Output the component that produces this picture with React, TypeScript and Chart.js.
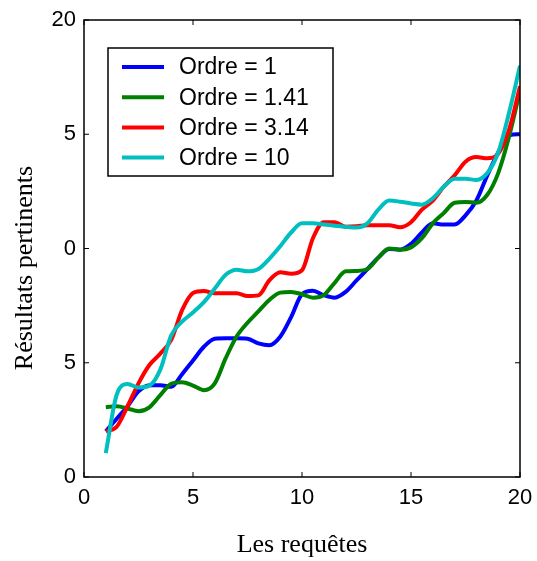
import React, { useEffect, useRef } from "react";
import { Chart, registerables } from "chart.js";

Chart.register(...registerables);

const requetes = [1, 1.5, 2, 2.5, 3, 3.5, 4, 4.5, 5, 5.5, 6, 6.5, 7, 7.5, 8, 8.5, 9, 9.5, 10, 10.5, 11, 11.5, 12, 12.5, 13, 13.5, 14, 14.5, 15, 15.5, 16, 16.5, 17, 17.5, 18, 18.5, 19, 19.5, 20];

const ordre1 = [2.0, 2.55, 3.1, 3.75, 4.02, 4.02, 3.95, 4.5, 5.1, 5.7, 6.05, 6.07, 6.07, 6.05, 5.85, 5.77, 6.14, 7.0, 8.0, 8.15, 7.96, 7.85, 8.1, 8.6, 9.1, 9.6, 9.98, 9.95, 10.2, 10.7, 11.1, 11.05, 11.05, 11.45, 12.1, 13.2, 14.2, 14.95, 15.0];

const ordre141 = [3.05, 3.1, 3.0, 2.88, 3.05, 3.58, 4.08, 4.15, 4.0, 3.8, 4.1, 5.2, 6.15, 6.75, 7.25, 7.75, 8.07, 8.1, 8.0, 7.85, 7.96, 8.5, 9.0, 9.02, 9.1, 9.6, 10.0, 9.95, 10.05, 10.45, 11.1, 11.55, 12.0, 12.04, 12.0, 12.35, 13.3, 14.9, 16.9];

const ordre314 = [2.0, 2.2, 3.1, 4.1, 4.9, 5.4, 6.0, 7.3, 8.05, 8.14, 8.04, 8.04, 8.04, 7.92, 7.95, 8.6, 8.96, 8.9, 9.05, 10.45, 11.15, 11.15, 10.95, 10.97, 11.02, 11.02, 11.02, 10.93, 11.15, 11.7, 12.1, 12.7, 13.2, 13.8, 14.0, 13.95, 14.15, 15.2, 17.1];

const ordre10 = [1.05, 3.6, 4.07, 3.92, 4.0, 4.7, 6.2, 6.8, 7.2, 7.65, 8.25, 8.85, 9.07, 9.0, 9.1, 9.55, 10.1, 10.7, 11.1, 11.1, 11.05, 11.0, 10.95, 10.92, 11.1, 11.7, 12.1, 12.05, 11.97, 11.92, 12.2, 12.7, 13.05, 13.05, 13.0, 13.3, 14.2, 15.95, 18.0];

const seriesLabels = ["Ordre = 1", "Ordre = 1.41", "Ordre = 3.14", "Ordre = 10"];
const seriesColors = ["#0000ff", "#008000", "#ff0000", "#00bfbf"];
const seriesValues = [ordre1, ordre141, ordre314, ordre10];

const xTickValues = [0, 5, 10, 15, 20];
const xTickLabels = ["0", "5", "10", "15", "20"];
const yTickValues = [0, 5, 10, 15, 20];
const yTickLabels = ["0", "5", "0", "5", "20"];

const xTitle = "Les requêtes";
const yTitle = "Résultats pertinents";

const SANS = '"Liberation Sans", Arial, sans-serif';
const SERIF = '"Liberation Serif", "Times New Roman", serif';

const framePlugin = {
  id: "frameLegendTitles",
  afterDraw(chart: any) {
    const { ctx, chartArea: a, scales } = chart;
    ctx.save();
    // axes box
    ctx.strokeStyle = "#000";
    ctx.lineWidth = 1.5;
    ctx.strokeRect(a.left, a.top, a.right - a.left, a.bottom - a.top);
    // inward ticks
    const tl = 5;
    ctx.lineWidth = 1;
    ctx.beginPath();
    xTickValues.forEach((v) => {
      const px = scales.x.getPixelForValue(v);
      ctx.moveTo(px, a.bottom);
      ctx.lineTo(px, a.bottom - tl);
      ctx.moveTo(px, a.top);
      ctx.lineTo(px, a.top + tl);
    });
    yTickValues.forEach((v) => {
      const py = scales.y.getPixelForValue(v);
      ctx.moveTo(a.left, py);
      ctx.lineTo(a.left + tl, py);
      ctx.moveTo(a.right, py);
      ctx.lineTo(a.right - tl, py);
    });
    ctx.stroke();

    // legend
    const bx = a.left + 24;
    const by = a.top + 28;
    const bw = 225;
    const bh = 128;
    ctx.fillStyle = "#fff";
    ctx.fillRect(bx, by, bw, bh);
    ctx.strokeStyle = "#000";
    ctx.lineWidth = 1.5;
    ctx.strokeRect(bx, by, bw, bh);
    ctx.font = `23px ${SANS}`;
    ctx.textAlign = "left";
    ctx.textBaseline = "middle";
    chart.data.datasets.forEach((ds: any, i: number) => {
      const ry = by + 19 + i * 30.2;
      ctx.strokeStyle = ds.borderColor;
      ctx.lineWidth = 4;
      ctx.beginPath();
      ctx.moveTo(bx + 14, ry);
      ctx.lineTo(bx + 56, ry);
      ctx.stroke();
      ctx.fillStyle = "#000";
      ctx.fillText(ds.label, bx + 71, ry + 1);
    });

    // axis titles
    ctx.fillStyle = "#000";
    ctx.font = `26px ${SERIF}`;
    ctx.textAlign = "center";
    ctx.textBaseline = "middle";
    ctx.fillText(xTitle, (a.left + a.right) / 2, 545);
    ctx.translate(25, 268);
    ctx.rotate(-Math.PI / 2);
    ctx.fillText(yTitle, 0, 0);
    ctx.restore();
  },
};

export default function App() {
  const canvasRef = useRef<HTMLCanvasElement | null>(null);

  useEffect(() => {
    if (!canvasRef.current) return;
    const datasets = seriesValues.map((vals, i) => ({
      label: seriesLabels[i],
      data: vals.map((y, j) => ({ x: requetes[j], y })),
      borderColor: seriesColors[i],
      backgroundColor: seriesColors[i],
      borderWidth: 4,
      pointRadius: 0,
      fill: false,
      cubicInterpolationMode: "monotone" as const,
      order: seriesValues.length - i,
    }));

    const chart = new Chart(canvasRef.current, {
      type: "line",
      data: { datasets },
      options: {
        animation: false,
        responsive: true,
        maintainAspectRatio: false,
        devicePixelRatio: 1,
        layout: { padding: { top: 20, right: 17, left: 0, bottom: 0 } },
        plugins: {
          legend: { display: false },
          tooltip: { enabled: false },
        },
        scales: {
          x: {
            type: "linear",
            min: 0,
            max: 20,
            grid: { display: false, drawTicks: false },
            border: { display: false },
            afterFit: (s: any) => {
              s.height = 84;
              s.paddingLeft = 0;
              s.paddingRight = 0;
            },
            ticks: {
              stepSize: 5,
              autoSkip: false,
              maxRotation: 0,
              padding: 8,
              color: "#000",
              font: { family: SANS, size: 22 },
              callback: (v: any) => {
                const i = xTickValues.indexOf(Number(v));
                return i >= 0 ? xTickLabels[i] : "";
              },
            },
          },
          y: {
            type: "linear",
            min: 0,
            max: 20,
            grid: { display: false, drawTicks: false },
            border: { display: false },
            afterFit: (s: any) => {
              s.width = 84;
              s.paddingTop = 0;
              s.paddingBottom = 0;
            },
            ticks: {
              stepSize: 5,
              autoSkip: false,
              padding: 8,
              color: "#000",
              font: { family: SANS, size: 22 },
              callback: (v: any) => {
                const i = yTickValues.indexOf(Number(v));
                return i >= 0 ? yTickLabels[i] : "";
              },
            },
          },
        },
      },
      plugins: [framePlugin],
    });
    return () => chart.destroy();
  }, []);

  return (
    <div style={{ position: "absolute", left: 0, top: 0, width: 537, height: 561, background: "#fff" }}>
      <canvas ref={canvasRef} />
    </div>
  );
}
